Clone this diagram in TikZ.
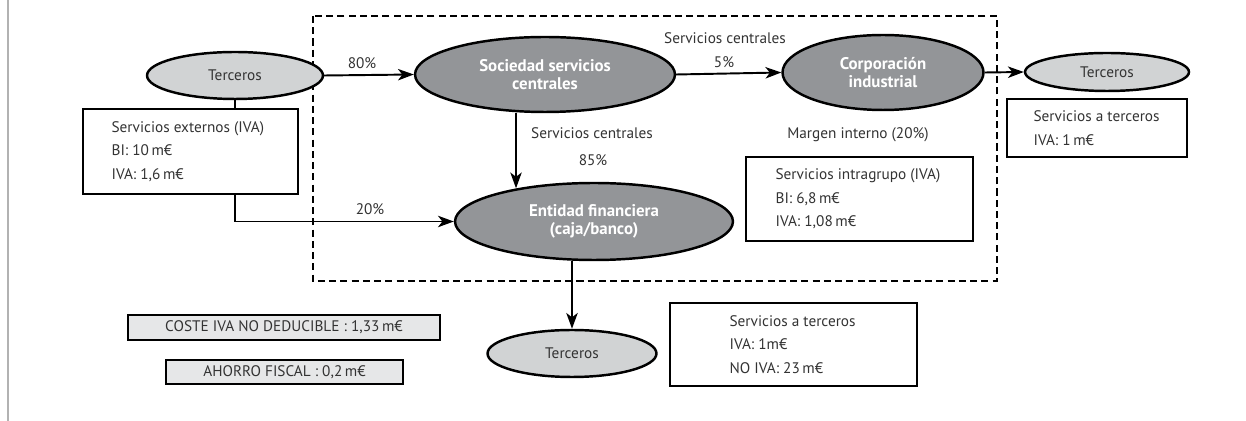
\documentclass[tikz,border=0pt]{standalone}
\usepackage{fontspec}
\setmainfont{PT Sans}
\usepackage{xcolor}
\usepackage{tikz}
\usetikzlibrary{shapes.geometric}
\usetikzlibrary{positioning}
\usetikzlibrary{arrows.meta}

\definecolor{grisoscuro}{HTML}{939598}
\definecolor{grisclaro}{HTML}{D1D3D4}
\definecolor{grisfondo}{HTML}{E6E7E8}
\definecolor{tinta}{HTML}{333333}

\begin{document}
\begin{tikzpicture}[x=0.02cm,y=-0.02cm,
  font=\fontsize{8.7}{13.3}\selectfont, text=tinta,
  empresa/.style={ellipse,draw=black,line width=1.4pt,fill=grisoscuro,inner sep=0pt,
    text=white,align=center,font=\bfseries\fontsize{9.6}{10.4}\selectfont},
  terceros/.style={ellipse,draw=black,line width=1.4pt,fill=grisclaro,inner sep=0pt},
  caja/.style={rectangle,draw=black,line width=0.9pt,inner sep=0pt},
  resumen/.style={rectangle,draw=black,line width=1.4pt,fill=grisfondo,inner sep=0pt},
  flecha/.style={line width=1.1pt,-{Stealth[length=9pt,width=6.5pt,inset=2.5pt]}},
  linea/.style={line width=1.1pt}]

\useasboundingbox (0,0) rectangle (1246,421);
\draw[black!30,line width=0.9pt] (8,0) -- (8,421);
\draw[line width=0.9pt,dash pattern=on 4pt off 2.4pt] (313,16) rectangle (997,281);

% elipses
\node[terceros,minimum width=3.52cm,minimum height=0.94cm] (ter1) at (235,75.5) {Terceros};
\node[empresa,minimum width=5.2cm,minimum height=1.5cm] (soc) at (545,74.5) {Sociedad servicios\\centrales};
\node[empresa,minimum width=4.02cm,minimum height=1.5cm] (corp) at (883,72.5) {Corporación\\industrial};
\node[terceros,minimum width=3.28cm,minimum height=0.76cm] (ter2) at (1107,72) {Terceros};
\node[empresa,minimum width=5.56cm,minimum height=1.54cm] (ent) at (594,221.5) {Entidad financiera\\(caja/banco)};
\node[terceros,minimum width=3.38cm,minimum height=0.94cm] (ter3) at (572,353.5) {Terceros};

% cajas
\node[caja,minimum width=4.3cm,minimum height=1.7cm] (ext) at (190.5,151.5) {};
\node[anchor=west,align=left,inner sep=0pt] (exttxt) at ([xshift=0.58cm]ext.west) {Servicios externos (IVA)\\BI: 10\,m€\\IVA: 1,6\,m€};
\node[caja,minimum width=4.54cm,minimum height=1.68cm] (intra) at (859.5,199) {};
\node[anchor=west,align=left,inner sep=0pt] (intratxt) at ([xshift=0.6cm]intra.west) {Servicios intragrupo (IVA)\\BI: 6,8\,m€\\IVA: 1,08\,m€};
\node[caja,minimum width=3.6cm,minimum height=1.16cm] (der) at (1097,128) {};
\node[anchor=west,align=left,inner sep=0pt] (dertxt) at ([xshift=0.54cm]der.west) {Servicios a terceros\\IVA: 1\,m€};
\node[caja,minimum width=4.94cm,minimum height=1.66cm] (abajo) at (793.5,344.5) {};
\node[anchor=west,align=left,inner sep=0pt] (abajotxt) at ([xshift=1.2cm]abajo.west) {Servicios a terceros\\IVA: 1m€\\NO IVA: 23\,m€};

\node[resumen,minimum width=6.24cm,minimum height=0.5cm] (coste) at (284,327.5) {COSTE IVA NO DEDUCIBLE : 1,33\,m€};
\node[resumen,minimum width=4.74cm,minimum height=0.48cm] (ahorro) at (284.5,372) {AHORRO FISCAL : 0,2\,m€};

% etiquetas
\node (p80) at (362,63) {80\%};
\node (p20) at (370,209) {20\%};
\node (sc1) at (725,38) {Servicios centrales};
\node (p5) at (724,62) {5\%};
\node (sc2) at (592,133) {Servicios centrales};
\node (p85) at (593,160) {85\%};
\node (margen) at (858,135) {Margen interno (20\%)};

% conexiones
\draw[linea] (ter1.south) -- (ter1.south |- ext.north);
\draw[flecha] (ter1.south |- ext.south) |- (ent.west);
\draw[flecha] (ter1.east) -- (soc.west);
\draw[flecha] (soc.east) -- (corp.west);
\draw[flecha] (corp.east) -- (ter2.west);
\draw[flecha] ([xshift=-0.58cm]soc.south) -- ([xshift=-1.56cm,yshift=-0.13cm]ent.north);
\draw[flecha] (ter3.north |- ent.south) -- (ter3.north);
\end{tikzpicture}
\end{document}
